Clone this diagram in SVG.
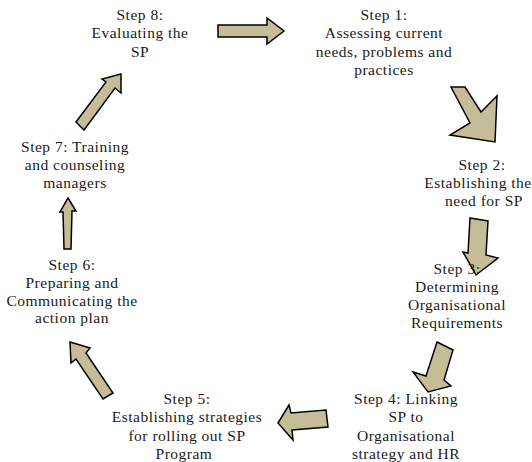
<svg xmlns="http://www.w3.org/2000/svg" width="532" height="462" viewBox="0 0 532 462">
<style>
.t{font-family:'Liberation Serif','DejaVu Serif',serif;font-size:15.5px;fill:#1a1a1a;text-anchor:middle;letter-spacing:0.5px}
.arr{fill:#C4BD97;stroke:#000;stroke-width:1.5;stroke-linejoin:miter}
</style>
<rect width="532" height="462" fill="#fff"/>
<g id="connectors">
<polygon class="arr" points="218,25 267,25 267,18 284,31 267,44 267,37 218,37"/>
<polygon class="arr" points="451,87 465,87 481,112 497,96 495,142 450,135 470,123"/>
<polygon class="arr" points="470,218 488,221 486,255 498,258 476,275 463,252 468,253"/>
<polygon class="arr" points="437,342 453,350 444,380 451,386 428,392 413,372 426,376"/>
<polygon class="arr" points="278,423 289,405 291,413 326,410 328,427 292,430 293,440"/>
<polygon class="arr" points="70,342 90,348 86,353 113,393 103,399 76,359 71,363"/>
<polygon class="arr" points="68,198 76,211 72,211 71,249 64,249 63,212 60,212"/>
<polygon class="arr" points="121,74 121,93 115,88 84,130 76,122 106,82 102,79"/>
</g>
<g class="t" font-family="Liberation Serif, serif">
<g id="step1"><text x="384" y="20">Step 1:</text><text x="384" y="38">Assessing current</text><text x="384" y="57">needs, problems and</text><text x="384" y="75">practices</text></g>
<g id="step2"><text x="482" y="170">Step 2:</text><text x="478" y="188">Establishing the</text><text x="484" y="206">need for SP</text></g>
<g id="step3"><text x="457" y="274">Step 3:</text><text x="457" y="292">Determining</text><text x="457" y="310">Organisational</text><text x="457" y="328">Requirements</text></g>
<g id="step4"><text x="406" y="404">Step 4: Linking</text><text x="406" y="422">SP to</text><text x="406" y="441">Organisational</text><text x="406" y="459">strategy and HR</text></g>
<g id="step5"><text x="187" y="404">Step 5:</text><text x="187" y="422">Establishing strategies</text><text x="187" y="441">for rolling out SP</text><text x="184" y="459">Program</text></g>
<g id="step6"><text x="72" y="270">Step 6:</text><text x="72" y="288">Preparing and</text><text x="72" y="306">Communicating the</text><text x="72" y="323">action plan</text></g>
<g id="step7"><text x="75" y="152">Step 7: Training</text><text x="75" y="170">and counseling</text><text x="75" y="188">managers</text></g>
<g id="step8"><text x="140" y="20">Step 8:</text><text x="140" y="38">Evaluating the</text><text x="140" y="57">SP</text></g>
</g>
</svg>
